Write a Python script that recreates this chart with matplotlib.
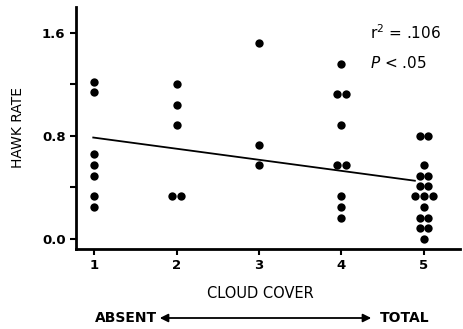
import numpy as np
import matplotlib.pyplot as plt

# hawk rate per observation, grouped by cloud cover class
cover_classes = [1, 2, 3, 4, 5]
rate_1 = [1.22, 1.14, 0.66, 0.57, 0.49, 0.33, 0.25]
rate_2 = [1.20, 1.04, 0.88, 0.33, 0.33]
rate_3 = [1.52, 0.73, 0.57]
rate_4 = [1.36, 1.12, 1.12, 0.88, 0.57, 0.57, 0.33, 0.25, 0.16]
rate_5 = [0.80, 0.80, 0.57, 0.49, 0.49, 0.41, 0.41, 0.33, 0.33, 0.33,
          0.25, 0.16, 0.16, 0.08, 0.08, 0.0]
rates = [rate_1, rate_2, rate_3, rate_4, rate_5]

# fitted regression line
fit_intercept = 0.871
fit_slope = -0.086
fit_x = [0.99, 4.89]

y_ticks = [0.0, 0.4, 0.8, 1.2, 1.6]
y_ticklabels = ["0.0", "", "0.8", "", "1.6"]

fig = plt.figure(figsize=(4.63, 3.29), dpi=100)
ax = fig.add_axes([0.164, 0.243, 0.83, 0.736])

# spread tied values sideways, like the hand-drawn dot plot
for cls, vals in zip(cover_classes, rates):
    vals = np.array(vals)
    for v in np.unique(vals):
        n = np.sum(vals == v)
        offs = (np.arange(n) - (n - 1) / 2) * 0.105
        ax.scatter(cls + offs, [v] * n, s=36, color="black", zorder=3,
                   linewidths=0)

fx = np.array(fit_x)
ax.plot(fx, fit_intercept + fit_slope * fx, color="black", lw=1.3)

ax.set_xlim(0.78, 5.44)
ax.set_ylim(-0.08, 1.8)
ax.set_xticks(cover_classes)
ax.set_yticks(y_ticks)
ax.set_yticklabels(y_ticklabels)
for lab in ax.get_xticklabels() + ax.get_yticklabels():
    lab.set_fontweight("bold")
    lab.set_fontsize(9.5)
ax.tick_params(direction="out", length=4, width=1.5)

ax.spines["top"].set_visible(False)
ax.spines["right"].set_visible(False)
ax.spines["left"].set_linewidth(2)
ax.spines["bottom"].set_linewidth(2)

ax.set_ylabel("HAWK RATE", fontsize=10, labelpad=12)

ax.text(0.766, 0.893, r"r$^2$ = .106", transform=ax.transAxes, fontsize=11,
        va="center")
ax.text(0.766, 0.769, r"$P$ < .05", transform=ax.transAxes, fontsize=11,
        va="center")

fig.text(260 / 463, 1 - 293 / 329, "CLOUD COVER", ha="center", va="center",
         fontsize=10.5)
fig.text(95 / 463, 1 - 318 / 329, "ABSENT", ha="left", va="center",
         fontsize=10, fontweight="bold")
fig.text(430 / 463, 1 - 318 / 329, "TOTAL", ha="right", va="center",
         fontsize=10, fontweight="bold")
fig.add_artist(plt.matplotlib.patches.FancyArrowPatch(
    (157 / 463, 1 - 318 / 329), (374 / 463, 1 - 318 / 329),
    transform=fig.transFigure, arrowstyle="<|-|>", mutation_scale=12,
    color="black", lw=1.3))

fig.savefig("out.png", dpi=100)
